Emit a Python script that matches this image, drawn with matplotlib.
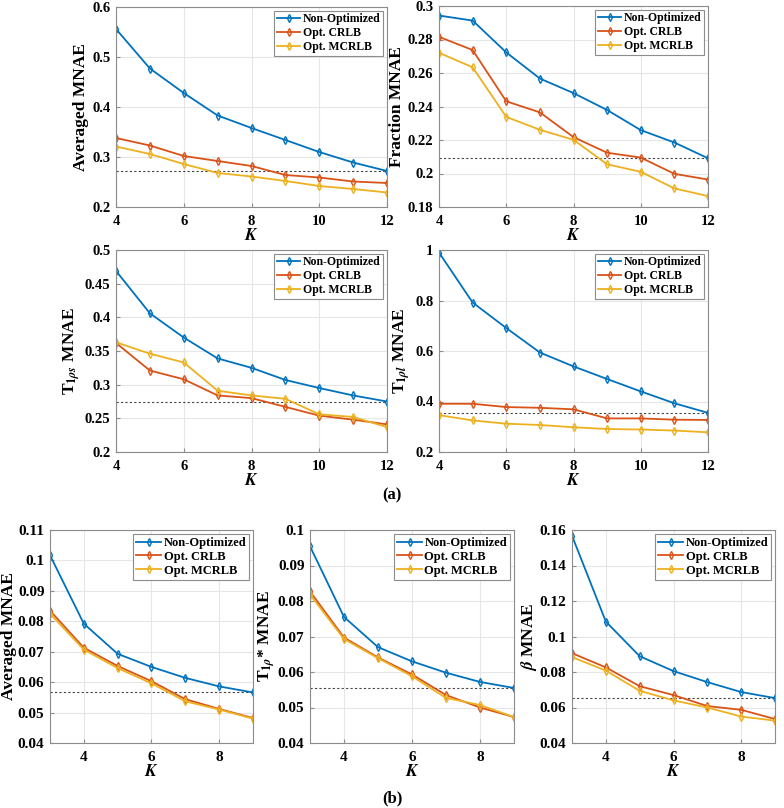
import numpy as np
import matplotlib
matplotlib.use('Agg')
import matplotlib.pyplot as plt
from matplotlib.ticker import FuncFormatter

plt.rcParams['font.family'] = ['Liberation Serif', 'DejaVu Serif']
plt.rcParams['font.weight'] = 'bold'
plt.rcParams['mathtext.fontset'] = 'stix'

#series names and MATLAB default colours
names = ['Non-Optimized', 'Opt. CRLB', 'Opt. MCRLB']
colors = ['#0072BD', '#D95319', '#EDB120']

#(a) K = 4..12
K_a = [4, 5, 6, 7, 8, 9, 10, 11, 12]
avg_a_non = [0.556, 0.477, 0.428, 0.383, 0.358, 0.334, 0.310, 0.289, 0.272]
avg_a_crlb = [0.338, 0.323, 0.302, 0.292, 0.282, 0.264, 0.259, 0.251, 0.248]
avg_a_mcrlb = [0.321, 0.306, 0.286, 0.268, 0.261, 0.252, 0.242, 0.236, 0.229]

frac_non = [0.2943, 0.2913, 0.2723, 0.2567, 0.2480, 0.2379, 0.2259, 0.2185, 0.2091]
frac_crlb = [0.2816, 0.2737, 0.2431, 0.2365, 0.2217, 0.2124, 0.2095, 0.1998, 0.1964]
frac_mcrlb = [0.2721, 0.2634, 0.2338, 0.2261, 0.2201, 0.2055, 0.2010, 0.1911, 0.1865]

t1s_non = [0.469, 0.406, 0.370, 0.339, 0.325, 0.307, 0.295, 0.284, 0.275]
t1s_crlb = [0.362, 0.321, 0.308, 0.284, 0.280, 0.267, 0.254, 0.248, 0.241]
t1s_mcrlb = [0.363, 0.346, 0.333, 0.291, 0.284, 0.279, 0.256, 0.252, 0.237]

t1l_non = [0.990, 0.792, 0.691, 0.594, 0.539, 0.489, 0.440, 0.393, 0.355]
t1l_crlb = [0.391, 0.391, 0.378, 0.375, 0.369, 0.333, 0.333, 0.328, 0.327]
t1l_mcrlb = [0.346, 0.325, 0.312, 0.307, 0.298, 0.291, 0.289, 0.285, 0.278]

#(b) K = 3..9
K_b = [3, 4, 5, 6, 7, 8, 9]
avg_b_non = [0.1017, 0.0792, 0.0693, 0.0650, 0.0614, 0.0586, 0.0566]
avg_b_crlb = [0.0835, 0.0713, 0.0653, 0.0603, 0.0544, 0.0512, 0.0482]
avg_b_mcrlb = [0.0825, 0.0707, 0.0646, 0.0596, 0.0537, 0.0510, 0.0480]

t1r_non = [0.0954, 0.0755, 0.0670, 0.0630, 0.0598, 0.0572, 0.0555]
t1r_crlb = [0.0827, 0.0697, 0.0641, 0.0593, 0.0535, 0.0500, 0.0473]
t1r_mcrlb = [0.0818, 0.0693, 0.0639, 0.0588, 0.0527, 0.0507, 0.0473]

beta_non = [0.1568, 0.1084, 0.0889, 0.0805, 0.0743, 0.0687, 0.0653]
beta_crlb = [0.0906, 0.0826, 0.0720, 0.0670, 0.0608, 0.0587, 0.0535]
beta_mcrlb = [0.0884, 0.0808, 0.0694, 0.0640, 0.0600, 0.0549, 0.0526]

W, H = 784, 808
fig = plt.figure(figsize=(W / 100, H / 100), dpi=100)

def box(l, t, r, b):
	return [l / W, 1 - b / H, (r - l) / W, (b - t) / H]

fmt = FuncFormatter(lambda v, p: ('%g' % round(v, 4)))

def panel(rect, K, series, ylim, yticks, xticks, ylabel, fs_tick, fs_lab, fs_leg, lpad=2):
	ax = fig.add_axes(box(*rect))
	for s, c, n in zip(series, colors, names):
		ax.plot(K, s, color=c, lw=1.3, marker='d', ms=4, mfc='none', mew=1.0, label=n)
	ax.axhline(series[0][-1], color='#444444', lw=0.8, ls=(0, (2, 2)), zorder=1)
	ax.set_xlim(K[0], K[-1])
	ax.set_ylim(*ylim)
	ax.set_xticks(xticks)
	ax.set_yticks(yticks)
	ax.yaxis.set_major_formatter(fmt)
	ax.grid(True, color='#e6e6e6', lw=0.8)
	ax.set_axisbelow(True)
	for sp in ax.spines.values():
		sp.set_color('#8c8c8c')
		sp.set_linewidth(0.8)
	ax.tick_params(direction='in', length=3, color='#8c8c8c', labelsize=fs_tick)
	ax.tick_params(axis='x', pad=6)
	ax.tick_params(axis='y', pad=4)
	for t in ax.get_xticklabels() + ax.get_yticklabels():
		t.set_fontweight('bold')
	ax.set_xlabel('$\\mathbf{\\it{K}}$', fontsize=fs_lab, labelpad=0)
	ax.set_ylabel(ylabel, fontsize=fs_lab, fontweight='bold', labelpad=lpad)
	leg = ax.legend(loc='upper right', fontsize=fs_leg, fancybox=False, framealpha=1,
		edgecolor='#8c8c8c', borderaxespad=0.3, handlelength=2.0, handletextpad=0.2,
		borderpad=0.25, labelspacing=0.15, prop={'weight': 'bold', 'size': fs_leg})
	leg.get_frame().set_linewidth(0.8)
	return ax

xt_a = [4, 6, 8, 10, 12]
xt_b = [4, 6, 8]

panel((116, 7, 387, 207), K_a, [avg_a_non, avg_a_crlb, avg_a_mcrlb], (0.2, 0.6),
	np.arange(0.2, 0.61, 0.1), xt_a, 'Averaged MNAE', 10.5, 12.5, 8.5)
panel((439, 6, 708, 207), K_a, [frac_non, frac_crlb, frac_mcrlb], (0.18, 0.3),
	np.arange(0.18, 0.301, 0.02), xt_a, 'Fraction MNAE', 10.5, 12.5, 8.5)
panel((116, 250, 387, 452), K_a, [t1s_non, t1s_crlb, t1s_mcrlb], (0.2, 0.5),
	np.arange(0.2, 0.501, 0.05), xt_a, 'T$_{1\\rho s}$ MNAE', 10.5, 12.5, 8.5)
panel((439, 250, 708, 452), K_a, [t1l_non, t1l_crlb, t1l_mcrlb], (0.2, 1.0),
	np.arange(0.2, 1.01, 0.2), xt_a, 'T$_{1\\rho l}$ MNAE', 10.5, 12.5, 8.5)

panel((50, 530, 253, 743), K_b, [avg_b_non, avg_b_crlb, avg_b_mcrlb], (0.04, 0.11),
	np.arange(0.04, 0.111, 0.01), xt_b, 'Averaged MNAE', 11, 12.5, 9, lpad=0.5)
panel((310, 530, 514, 743), K_b, [t1r_non, t1r_crlb, t1r_mcrlb], (0.04, 0.1),
	np.arange(0.04, 0.101, 0.01), xt_b, 'T$_{1\\rho}$* MNAE', 11, 12.5, 9, lpad=0.5)
panel((572, 530, 775, 743), K_b, [beta_non, beta_crlb, beta_mcrlb], (0.04, 0.16),
	np.arange(0.04, 0.161, 0.02), xt_b, '$\\beta$ MNAE', 11, 12.5, 9, lpad=0.5)

fig.text(392 / W, 1 - 495 / H, '(a)', ha='center', va='center', fontsize=12, fontweight='bold')
fig.text(392 / W, 1 - 798 / H, '(b)', ha='center', va='center', fontsize=12, fontweight='bold')

fig.savefig('out.png', dpi=100)
